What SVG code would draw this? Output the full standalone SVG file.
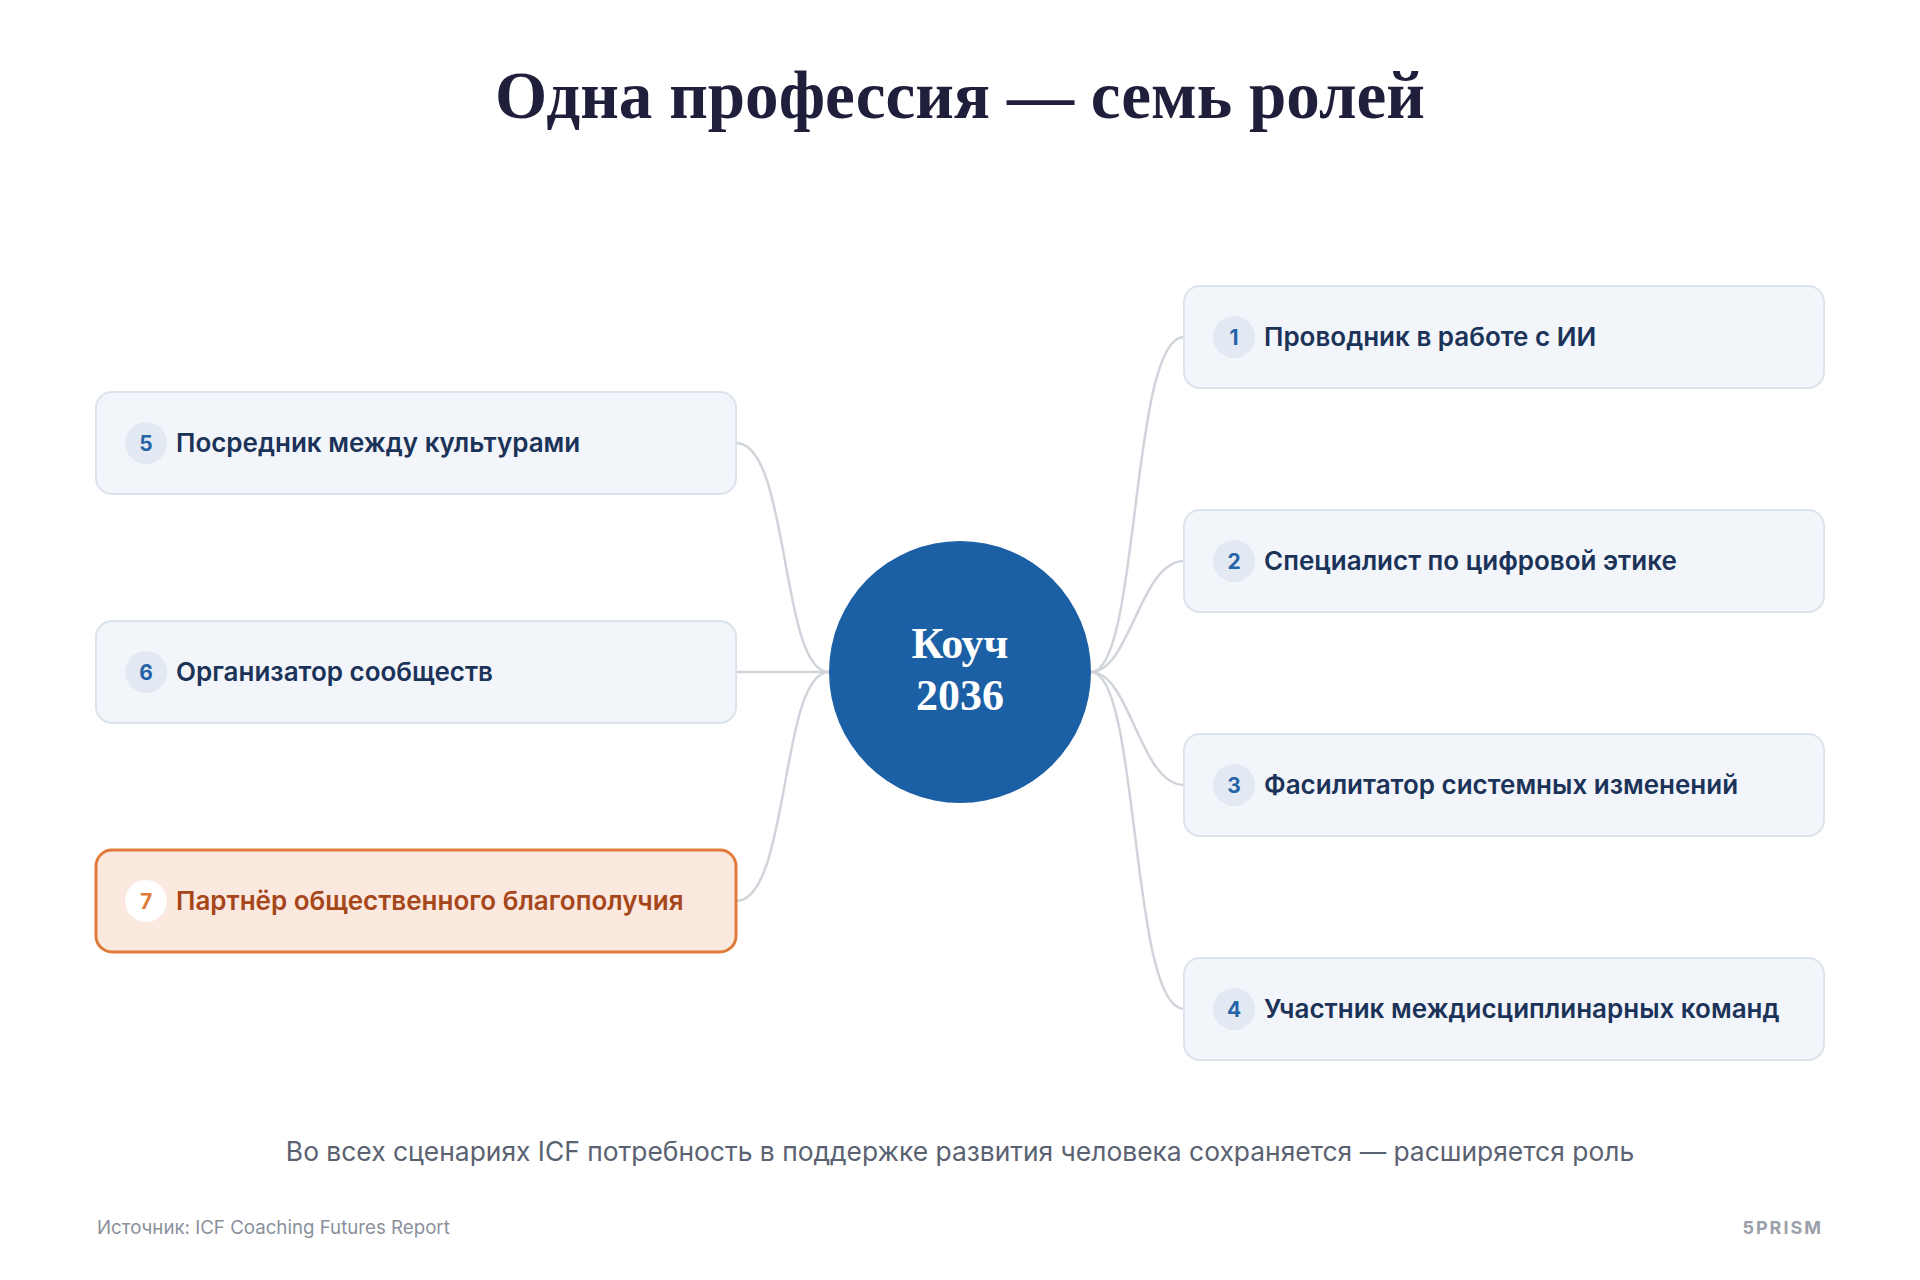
<svg xmlns="http://www.w3.org/2000/svg" width="1920" height="1280" viewBox="0 0 1920 1280">
<style>
.box{fill:#f2f5fa;stroke:#dde3ec;stroke-width:2}
.boxh{fill:#fbe8df;stroke:#e07b3c;stroke-width:3}
.badge{fill:#e3e9f2}
.badgeh{fill:#ffffff}
.num{font-family:Inter,"Liberation Sans",sans-serif;font-weight:700;font-size:21px;fill:#2563a8;text-anchor:middle}
.numh{fill:#e07b3c}
.lbl{font-family:Inter,"Liberation Sans",sans-serif;font-weight:600;font-size:26px;fill:#1b3358}
.lblh{fill:#a5471a}
.conn{fill:none;stroke:#d0d4db;stroke-width:2.5}
</style>
<rect width="1920" height="1280" fill="#ffffff"/>
<text x="960" y="118" text-anchor="middle" font-family="'Liberation Serif',serif" font-weight="700" font-size="68" fill="#1f1e3b" textLength="930" lengthAdjust="spacingAndGlyphs">Одна профессия — семь ролей</text>
<g id="connectors">
<path class="conn" d="M736,443 C790,443 780,672 829,672"/>
<path class="conn" d="M736,672 L829,672"/>
<path class="conn" d="M736,901 C790,901 780,672 829,672"/>
<path class="conn" d="M1184,337 C1130,337 1140,672 1091,672"/>
<path class="conn" d="M1184,561 C1140,561 1130,672 1091,672"/>
<path class="conn" d="M1184,785 C1140,785 1130,672 1091,672"/>
<path class="conn" d="M1184,1009 C1130,1009 1140,672 1091,672"/>
</g>
<g id="center">
<circle cx="960" cy="672" r="131" fill="#1b5fa5"/>
<text x="960" y="658" text-anchor="middle" font-family="'Liberation Serif',serif" font-weight="700" font-size="44" fill="#ffffff">Коуч</text>
<text x="960" y="710" text-anchor="middle" font-family="'Liberation Serif',serif" font-weight="700" font-size="44" fill="#ffffff">2036</text>
</g>
<g id="role1">
<rect class="box" x="1184" y="286" width="640" height="102" rx="16"/>
<circle class="badge" cx="1234" cy="337" r="21"/>
<text class="num" x="1234" y="345">1</text>
<text class="lbl" x="1264" y="346">Проводник в работе с ИИ</text>
</g>
<g id="role2">
<rect class="box" x="1184" y="510" width="640" height="102" rx="16"/>
<circle class="badge" cx="1234" cy="561" r="21"/>
<text class="num" x="1234" y="569">2</text>
<text class="lbl" x="1264" y="570">Специалист по цифровой этике</text>
</g>
<g id="role3">
<rect class="box" x="1184" y="734" width="640" height="102" rx="16"/>
<circle class="badge" cx="1234" cy="785" r="21"/>
<text class="num" x="1234" y="793">3</text>
<text class="lbl" x="1264" y="794">Фасилитатор системных изменений</text>
</g>
<g id="role4">
<rect class="box" x="1184" y="958" width="640" height="102" rx="16"/>
<circle class="badge" cx="1234" cy="1009" r="21"/>
<text class="num" x="1234" y="1017">4</text>
<text class="lbl" x="1264" y="1018">Участник междисциплинарных команд</text>
</g>
<g id="role5">
<rect class="box" x="96" y="392" width="640" height="102" rx="16"/>
<circle class="badge" cx="146" cy="443" r="21"/>
<text class="num" x="146" y="451">5</text>
<text class="lbl" x="176" y="452">Посредник между культурами</text>
</g>
<g id="role6">
<rect class="box" x="96" y="621" width="640" height="102" rx="16"/>
<circle class="badge" cx="146" cy="672" r="21"/>
<text class="num" x="146" y="680">6</text>
<text class="lbl" x="176" y="681">Организатор сообществ</text>
</g>
<g id="role7">
<rect class="boxh" x="96" y="850" width="640" height="102" rx="16"/>
<circle class="badgeh" cx="146" cy="901" r="21"/>
<text class="num numh" x="146" y="909">7</text>
<text class="lbl lblh" x="176" y="910">Партнёр общественного благополучия</text>
</g>
<text x="960" y="1161" text-anchor="middle" font-family="Inter,'Liberation Sans',sans-serif" font-size="26.4" fill="#5a6272">Во всех сценариях ICF потребность в поддержке развития человека сохраняется — расширяется роль</text>
<text x="97" y="1234" font-family="Inter,'Liberation Sans',sans-serif" font-size="18.7" fill="#8a909c">Источник: ICF Coaching Futures Report</text>
<text x="1823" y="1234" text-anchor="end" font-family="Inter,'Liberation Sans',sans-serif" font-weight="700" font-size="18" letter-spacing="2" fill="#9ba1ab">5PRISM</text>
</svg>
